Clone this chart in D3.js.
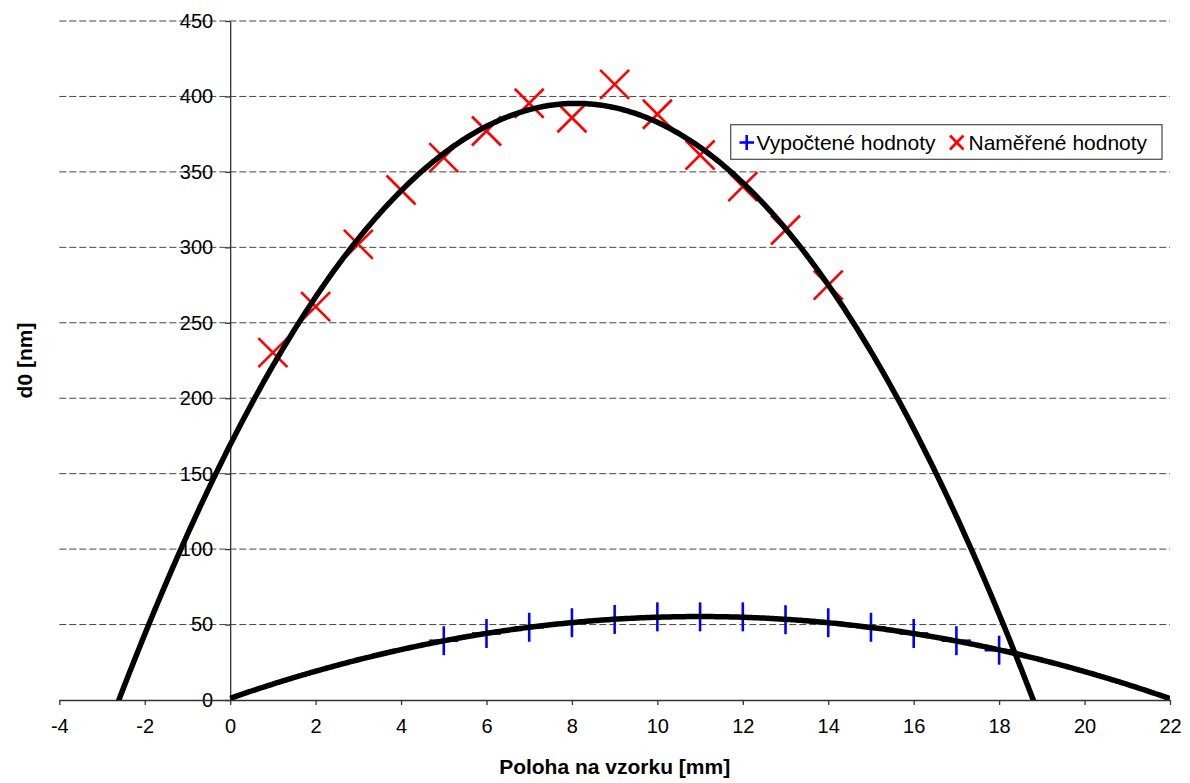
<!DOCTYPE html>
<html>
<head>
<meta charset="utf-8">
<script src="https://cdn.jsdelivr.net/npm/d3@7"></script>
<style>
  html, body { margin: 0; padding: 0; background: #ffffff; }
  svg { display: block; font-family: "Liberation Sans", Arial, sans-serif; }
</style>
</head>
<body>
<svg id="chart" width="1190" height="783"></svg>
<script>
// Calculated values (blue plus markers)
const calcX = [5, 6, 7, 8, 9, 10, 11, 12, 13, 14, 15, 16, 17, 18];
const calcY = [39.3, 44.1, 48.2, 51.2, 53.4, 55.1, 55.1, 55.1, 53.2, 51.2, 48.2, 44.1, 39.3, 33.0];

// Measured values (red cross markers)
const measX = [1, 2, 3, 4, 5, 6, 7, 8, 9, 10, 11, 12, 13, 14];
const measY = [230.2, 260.7, 302.0, 338.0, 359.4, 377.1, 395.5, 385.9, 408.0, 388.2, 361.2, 340.2, 311.5, 275.0];

// Axis ticks
const xTicks = [-4, -2, 0, 2, 4, 6, 8, 10, 12, 14, 16, 18, 20, 22];
const yTicks = [0, 50, 100, 150, 200, 250, 300, 350, 400, 450];

const seriesNames = ["Vypočtené hodnoty", "Naměřené hodnoty"];
const xTitle = "Poloha na vzorku [mm]";
const yTitle = "d0 [nm]";

const svg = d3.select("#chart");
const plotL = 59.3, plotR = 1170, plotT = 21, plotB = 700;

const x = d3.scaleLinear().domain([-4, 22]).range([plotL, plotR]);
const y = d3.scaleLinear().domain([0, 450]).range([plotB, plotT]);

// Least-squares quadratic fit (polynomial trendline of order 2)
function quadFit(xs, ys) {
  let s0 = xs.length, s1 = 0, s2 = 0, s3 = 0, s4 = 0, t0 = 0, t1 = 0, t2 = 0;
  xs.forEach((xi, i) => {
    const yi = ys[i], x2 = xi * xi;
    s1 += xi; s2 += x2; s3 += x2 * xi; s4 += x2 * x2;
    t0 += yi; t1 += xi * yi; t2 += x2 * yi;
  });
  const M = [[s4, s3, s2, t2], [s3, s2, s1, t1], [s2, s1, s0, t0]];
  for (let c = 0; c < 3; c++) {
    for (let r = c + 1; r < 3; r++) {
      const f = M[r][c] / M[c][c];
      for (let k = c; k < 4; k++) M[r][k] -= f * M[c][k];
    }
  }
  const sol = [0, 0, 0];
  for (let r = 2; r >= 0; r--) {
    let s = M[r][3];
    for (let k = r + 1; k < 3; k++) s -= M[r][k] * sol[k];
    sol[r] = s / M[r][r];
  }
  return xv => sol[0] * xv * xv + sol[1] * xv + sol[2];
}

// Clip for plot area
svg.append("defs").append("clipPath").attr("id", "plotClip")
  .append("rect").attr("x", plotL).attr("y", plotT - 10)
  .attr("width", plotR - plotL).attr("height", plotB - plotT + 10);

// Dashed horizontal gridlines
svg.append("g").selectAll("line").data(yTicks.filter(d => d > 0)).join("line")
  .attr("x1", plotL).attr("x2", plotR)
  .attr("y1", d => y(d)).attr("y2", d => y(d))
  .attr("stroke", "#444").attr("stroke-width", 1)
  .attr("stroke-dasharray", "7,3");

const plain = d => String(d);

// Y axis at x = 0
const yAxis = d3.axisLeft(y).tickValues(yTicks).tickFormat(plain)
  .tickSize(5).tickSizeOuter(0).tickPadding(12);
const gy = svg.append("g").attr("transform", `translate(${x(0)},0)`).call(yAxis);
gy.select(".domain").attr("stroke", "#333").attr("stroke-width", 1.3);
gy.selectAll(".tick line").attr("stroke", "#333").attr("stroke-width", 1.3);
gy.selectAll("text").attr("font-size", 20).attr("fill", "#000")
  .attr("font-family", "'Liberation Sans', Arial, sans-serif");

// X axis at y = 0
const xAxis = d3.axisBottom(x).tickValues(xTicks).tickFormat(plain)
  .tickSize(5).tickSizeOuter(0).tickPadding(14);
const gx = svg.append("g").attr("transform", `translate(0,${y(0)})`).call(xAxis);
gx.select(".domain").attr("stroke", "#333").attr("stroke-width", 1.3);
gx.selectAll(".tick line").attr("stroke", "#333").attr("stroke-width", 1.3);
gx.selectAll("text").attr("font-size", 20).attr("fill", "#000")
  .attr("font-family", "'Liberation Sans', Arial, sans-serif");

// Axis titles
svg.append("text").attr("x", (plotL + plotR) / 2).attr("y", 774)
  .attr("text-anchor", "middle").attr("font-size", 21).attr("font-weight", "bold")
  .text(xTitle);
svg.append("text").attr("transform", `translate(32,${(plotT + plotB) / 2}) rotate(-90)`)
  .attr("text-anchor", "middle").attr("font-size", 21).attr("font-weight", "bold")
  .text(yTitle);

const plot = svg.append("g").attr("clip-path", "url(#plotClip)");
const mk = 14.5;

// Blue plus markers
const plus = plot.append("g").attr("stroke", "#0000ff").attr("stroke-width", 2.6);
calcX.forEach((xv, i) => {
  const cx = x(xv), cy = y(calcY[i]);
  plus.append("line").attr("x1", cx - mk).attr("x2", cx + mk).attr("y1", cy).attr("y2", cy);
  plus.append("line").attr("x1", cx).attr("x2", cx).attr("y1", cy - mk).attr("y2", cy + mk);
});

// Red cross markers
const cross = plot.append("g").attr("stroke", "#ff0000").attr("stroke-width", 2.6);
measX.forEach((xv, i) => {
  const cx = x(xv), cy = y(measY[i]);
  cross.append("line").attr("x1", cx - mk).attr("x2", cx + mk).attr("y1", cy - mk).attr("y2", cy + mk);
  cross.append("line").attr("x1", cx - mk).attr("x2", cx + mk).attr("y1", cy + mk).attr("y2", cy - mk);
});

// Trendlines
const line = d3.line().x(d => x(d[0])).y(d => y(d[1]));
const fitMeas = quadFit(measX, measY);
const fitCalc = quadFit(calcX, calcY);
const upper = d3.range(-4, 22.001, 0.05).map(v => [v, fitMeas(v)]);
const lower = d3.range(0, 22.001, 0.05).map(v => [v, fitCalc(v)]);
[upper, lower].forEach(pts => {
  plot.append("path").datum(pts).attr("d", line)
    .attr("fill", "none").attr("stroke", "#000").attr("stroke-width", 5.5)
    .attr("stroke-linejoin", "round");
});

// Legend
const lg = svg.append("g");
lg.append("rect").attr("x", 730.7).attr("y", 124.7).attr("width", 431.3).attr("height", 34.6)
  .attr("fill", "#fff").attr("stroke", "#555").attr("stroke-width", 1.3);
const ly = 142.5;
const lp = lg.append("g").attr("stroke", "#0000ff").attr("stroke-width", 2.6);
lp.append("line").attr("x1", 739.5).attr("x2", 754).attr("y1", ly).attr("y2", ly);
lp.append("line").attr("x1", 746.7).attr("x2", 746.7).attr("y1", ly - 7.5).attr("y2", ly + 7.5);
const lx = lg.append("g").attr("stroke", "#ff0000").attr("stroke-width", 2.6);
lx.append("line").attr("x1", 950).attr("x2", 963.5).attr("y1", ly - 7).attr("y2", ly + 7);
lx.append("line").attr("x1", 950).attr("x2", 963.5).attr("y1", ly + 7).attr("y2", ly - 7);
lg.append("text").attr("x", 756.5).attr("y", ly + 7.5).attr("font-size", 21).text(seriesNames[0]);
lg.append("text").attr("x", 968.5).attr("y", ly + 7.5).attr("font-size", 21).text(seriesNames[1]);
</script>
</body>
</html>
